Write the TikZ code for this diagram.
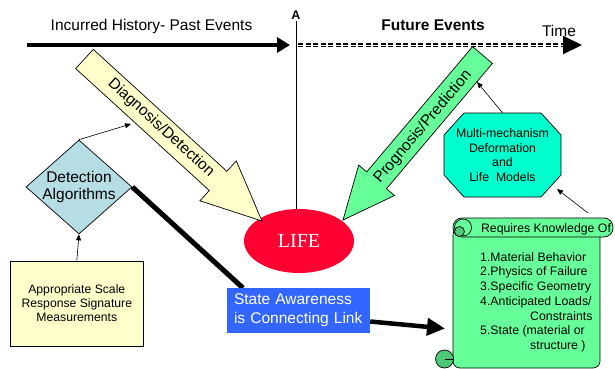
\documentclass[tikz,border=0pt]{standalone}
\usepackage{fontspec}
\setmainfont{Liberation Sans}
\newfontfamily\lifefont{Liberation Serif}
\usepackage{tikz}
\usetikzlibrary{shapes.geometric, arrows.meta}
\definecolor{pastyellow}{RGB}{255,255,204}
\definecolor{lightgreen}{RGB}{102,255,153}
\definecolor{curlgreen}{RGB}{76,200,118}
\definecolor{aqua}{RGB}{0,255,204}
\definecolor{algblue}{RGB}{183,221,228}
\definecolor{lifered}{RGB}{255,0,51}
\definecolor{stateblue}{RGB}{51,102,255}
\tikzstyle{bigtext} = [font=\fontsize{15.5}{19}\selectfont]
\tikzstyle{boldtext} = [font=\fontsize{15.5}{19}\selectfont\bfseries]
\tikzstyle{midtext} = [font=\fontsize{12.3}{14.7}\selectfont]
\tikzstyle{smalltext} = [font=\fontsize{12.2}{14}\selectfont]
\tikzstyle{blockarrow} = [draw=black, line width=0.7pt]
\tikzstyle{thinarrow} = [line width=0.6pt, -{Triangle[length=6pt,width=5pt]}]
\tikzstyle{heavyarrow} = [line width=4.5pt, -{Triangle[length=13pt,width=15pt]}]
\tikzstyle{linkline} = [line width=5pt]
\tikzstyle{scrollline} = [draw=black, line width=0.7pt]

\begin{document}
\begin{tikzpicture}[x=1pt, y=-1pt]
\useasboundingbox (0,0) rectangle (615,369);

% time line
\coordinate (past) at (27,45);
\coordinate (pastend) at (290,45);
\coordinate (futstart) at (298,45);
\coordinate (futend) at (582,45);
\draw[heavyarrow] (past) -- (pastend);
\draw[line width=1.5pt, double=white, double distance=0.6pt, dash pattern=on 5pt off 2.5pt] (futstart) -- (564,45);
\draw[line width=2pt, -{Triangle[length=19pt,width=18pt]}] ([xshift=-2pt]futend) -- (futend);

\node (hist) [bigtext, anchor=base] at (151.5,31) {Incurred History- Past Events};
\node (fut) [boldtext, anchor=base] at (433,31) {Future Events};
\node (time) [bigtext, anchor=base] at (559,37) {Time};
\node (pointA) [font=\fontsize{12.5}{14}\selectfont\bfseries, anchor=base, inner sep=1pt] at (296,20) {A};

% life
\node (life) [ellipse, fill=lifered, minimum width=110pt, minimum height=64pt, text=white, font=\lifefont\fontsize{20}{24}\selectfont] at (299,241) {LIFE};
\draw[line width=0.8pt] (pointA.south) -- (pointA.south |- life.north);

% block arrows
\filldraw[blockarrow, fill=pastyellow] (93.3,49.4) -- (226.9,171.3) -- (236.3,160.9) -- (262,221) -- (199.9,200.8) -- (209.3,190.5) -- (75.7,68.6) -- cycle;
\node (diag) [bigtext, rotate=-42.4] at (161,128) {Diagnosis/Detection};
\filldraw[blockarrow, fill=lightgreen] (472.6,46.6) -- (492.4,63.4) -- (386.5,188.7) -- (394.5,195.5) -- (343,220) -- (358.7,165.1) -- (366.7,171.9) -- cycle;
\node (prog) [bigtext, rotate=49.8] at (423,127) {Prognosis/Prediction};

% left side
\node (detect) [diamond, draw, line width=0.7pt, fill=algblue, minimum width=106pt, minimum height=94pt, aspect=1.13, inner sep=-6pt, align=center, font=\fontsize{15.5}{17}\selectfont] at (79,187) {Detection\\Algorithms};
\node (meas) [rectangle, draw, line width=0.8pt, fill=pastyellow, minimum width=133pt, minimum height=85pt, smalltext, align=center] at (76.8,303.5) {Appropriate Scale\\Response Signature\\Measurements};
\coordinate (diagedge) at (131,124);
\draw[thinarrow] (detect.north) -- (diagedge);
\draw[thinarrow] (meas.north) -- (detect.south);

% state awareness
\draw[linkline] (detect.east) -- (243,288);
\node (state) [fill=stateblue, text=white, minimum height=45pt, text width=129pt, inner xsep=7pt, bigtext, align=left] at (298.5,310.5) {State Awareness\\is Connecting Link};

% scroll
\filldraw[scrollline, fill=lightgreen, rounded corners=7pt] (453,228) rectangle (600,368);
\filldraw[scrollline, fill=curlgreen] (444.5,359) circle (9pt);
\draw[scrollline] (444.5,359) -- (453,359);
\filldraw[scrollline, fill=lightgreen, rounded corners=9pt] (453,218) rectangle (613,237);
\draw[scrollline] (463,227.5) circle (8.5pt);
\filldraw[scrollline, fill=curlgreen] (459.5,231.5) circle (5pt);
\node (reqs) [midtext, anchor=base] at (546,232) {Requires Knowledge Of};
\foreach \t [count=\i] in {1.Material Behavior, 2.Physics of Failure, 3.Specific Geometry, 4.Anticipated Loads/, \hspace*{50pt}Constraints, 5.State (material or, \hspace*{50pt}structure )}
  \node (item\i) [midtext, anchor=base west, inner sep=0pt] at (480,246.5+14.7*\i) {\t};
\coordinate (kin) at (445,328.5);
\coordinate (knowtop) at (588,213);
\draw[line width=4.5pt, -{Triangle[length=18pt,width=17pt]}] ([yshift=-11pt]state.east) -- (kin);

% models
\filldraw[blockarrow, fill=aqua] (464,113) -- (541,113) -- (561,135) -- (561,175) -- (541,197) -- (464,197) -- (444,175) -- (444,135) -- cycle;
\node (models) [minimum width=117pt, minimum height=84pt, midtext, align=center] at (502.5,155) {Multi-mechanism\\Deformation\\and\\Life~~Models};
\coordinate (progedge) at (477,82);
\coordinate (modelsin) at (557,189);
\draw[thinarrow] (models.north) -- (progedge);
\draw[thinarrow] (knowtop) -- (modelsin);
\end{tikzpicture}
\end{document}
